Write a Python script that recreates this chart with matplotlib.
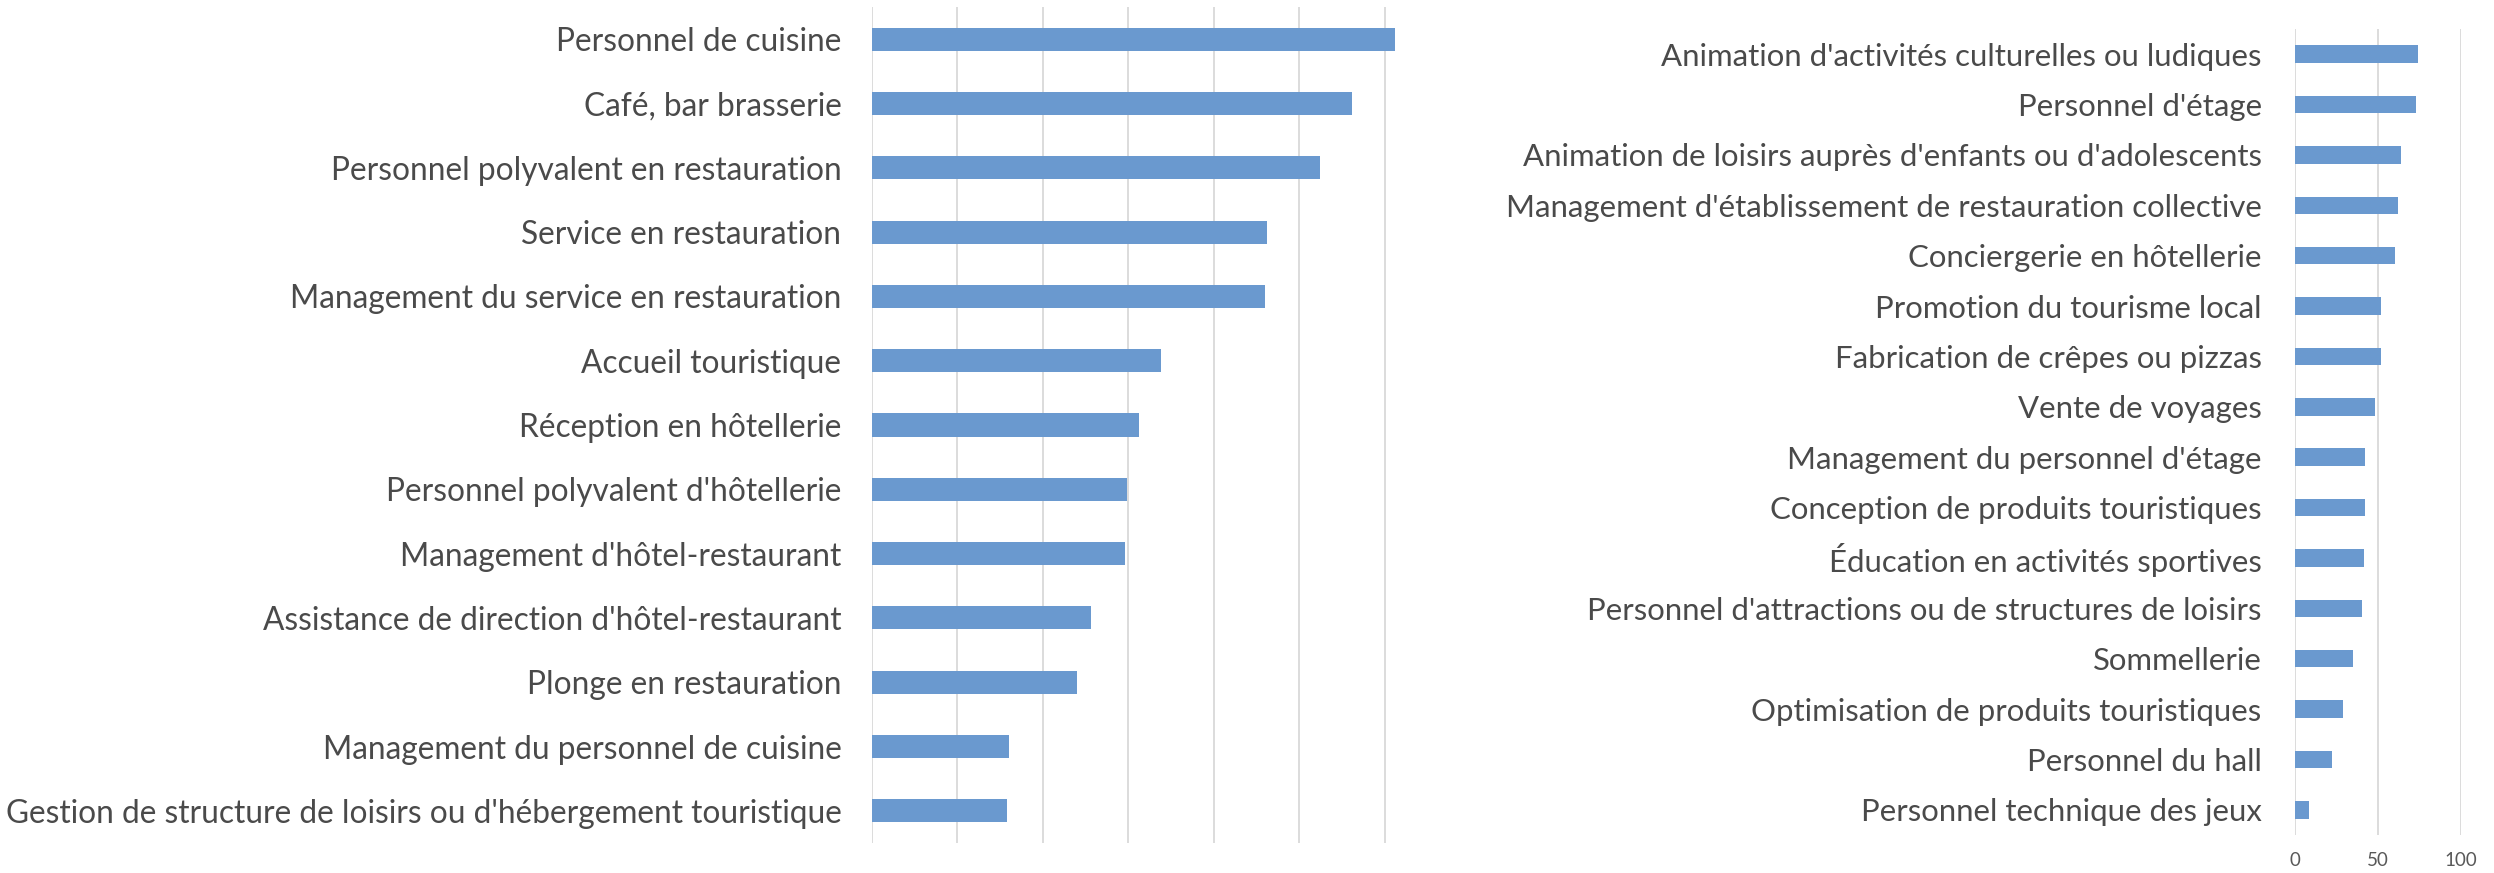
import matplotlib.pyplot as plt

# left chart
metiers_a = ["Personnel de cuisine", "Café, bar brasserie",
             "Personnel polyvalent en restauration", "Service en restauration",
             "Management du service en restauration", "Accueil touristique",
             "Réception en hôtellerie", "Personnel polyvalent d'hôtellerie",
             "Management d'hôtel-restaurant",
             "Assistance de direction d'hôtel-restaurant",
             "Plonge en restauration", "Management du personnel de cuisine",
             "Gestion de structure de loisirs ou d'hébergement touristique"]
valeurs_a = [306, 281, 262, 231, 230, 169, 156, 149, 148, 128, 120, 80, 79]

# right chart
metiers_b = ["Animation d'activités culturelles ou ludiques", "Personnel d'étage",
             "Animation de loisirs auprès d'enfants ou d'adolescents",
             "Management d'établissement de restauration collective",
             "Conciergerie en hôtellerie", "Promotion du tourisme local",
             "Fabrication de crêpes ou pizzas", "Vente de voyages",
             "Management du personnel d'étage",
             "Conception de produits touristiques",
             "Éducation en activités sportives",
             "Personnel d'attractions ou de structures de loisirs",
             "Sommellerie", "Optimisation de produits touristiques",
             "Personnel du hall", "Personnel technique des jeux"]
valeurs_b = [74, 73, 64, 62, 60, 52, 52, 48, 42, 42, 41.5, 40.5, 35, 29, 22, 8.5]
ticks_b = [0, 50, 100]

W, H = 2494, 873
bleu = '#6a99cf'
gris_txt = '#4a4a4a'
grille = '#d9d9d9'
police = ['Lato', 'DejaVu Sans']

fig = plt.figure(figsize=(W / 100, H / 100), dpi=100)

ax1 = fig.add_axes([872 / W, (H - 843) / H, (1412 - 872) / W, 836 / H])
ax1.barh(range(len(metiers_a)), valeurs_a, height=0.36, color=bleu, zorder=3)
ax1.set_xlim(0, 316)
ax1.set_ylim(len(metiers_a) - 0.5, -0.5)
ax1.set_xticks(range(0, 301, 50))
ax1.set_xticklabels([])
ax1.set_yticks(range(len(metiers_a)))
ax1.set_yticklabels(metiers_a, fontsize=22.8, color=gris_txt, family=police)
ax1.tick_params(length=0, axis='y', pad=22)
ax1.tick_params(length=0, axis='x')
ax1.grid(axis='x', color=grille, lw=1.3)
for s in ax1.spines.values():
    s.set_visible(False)

ax2 = fig.add_axes([2295 / W, (H - 835) / H, (2461 - 2295) / W, 806 / H])
ax2.barh(range(len(metiers_b)), valeurs_b, height=0.345, color=bleu, zorder=3)
ax2.set_xlim(0, 100)
ax2.set_ylim(len(metiers_b) - 0.5, -0.5)
ax2.set_xticks(ticks_b)
ax2.set_xticklabels([str(t) for t in ticks_b], fontsize=13.5, color='#595959',
                    family=police)
ax2.set_yticks(range(len(metiers_b)))
ax2.set_yticklabels(metiers_b, fontsize=22.4, color=gris_txt, family=police)
ax2.tick_params(length=0, axis='y', pad=24)
ax2.tick_params(length=0, axis='x', pad=12)
ax2.grid(axis='x', color=grille, lw=1.3)
for s in ax2.spines.values():
    s.set_visible(False)

fig.savefig('out.png', dpi=100)
